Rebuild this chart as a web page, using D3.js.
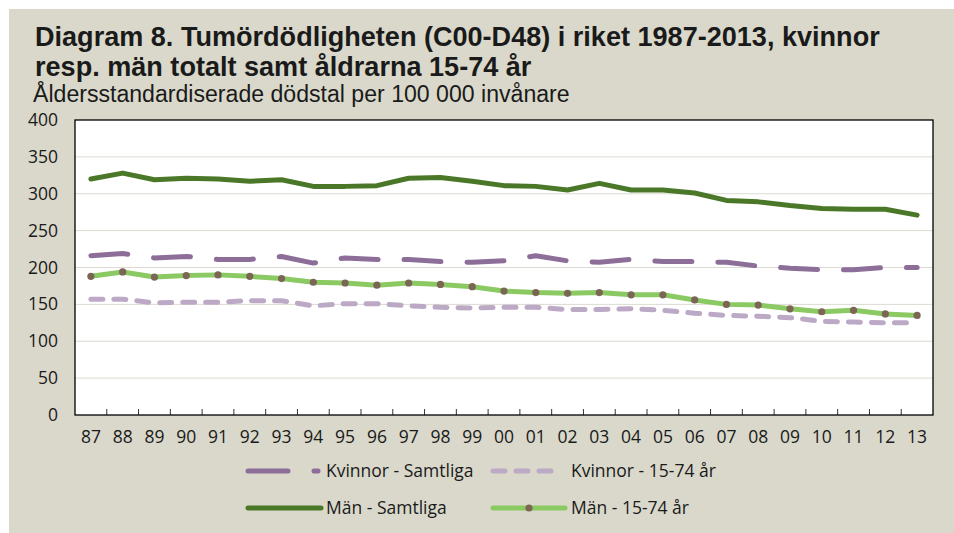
<!DOCTYPE html>
<html><head><meta charset="utf-8">
<script src="https://cdn.jsdelivr.net/npm/d3@7"></script>
<style>body{margin:0;background:#fff;} text{font-family:"Open Sans","DejaVu Sans",sans-serif;}</style>
</head><body>
<svg id="c" width="954" height="533"></svg>
<script>
const years = ["87","88","89","90","91","92","93","94","95","96","97","98","99","00","01","02","03","04","05","06","07","08","09","10","11","12","13"];
const kvinnorSamtliga = [216,219,213,215,211,211,215,206,213,211,211,208,207,209,216,209,207,211,208,208,207,202,199,197,197,200,200];
const kvinnor1574 = [157,157,152,153,153,155,155,148,151,151,148,146,145,146,146,143,143,144,142,138,135,134,132,127,126,125,125];
const manSamtliga = [320,328,319,321,320,317,319,310,310,311,321,322,317,311,310,305,314,305,305,301,291,289,284,280,279,279,271];
const man1574 = [188,194,187,189,190,188,185,180,179,176,179,177,174,168,166,165,166,163,163,156,150,149,144,140,142,137,135];
const yTicks = [0,50,100,150,200,250,300,350,400];
const titleLines = ["Diagram 8. Tumördödligheten (C00-D48) i riket 1987-2013, kvinnor","resp. män totalt samt åldrarna 15-74 år"];
const subtitle = "Åldersstandardiserade dödstal per 100 000 invånare";

const svg = d3.select("#c");
svg.append("rect").attr("x",9).attr("y",9).attr("width",945).attr("height",524).attr("fill","#d9d8cb");

const L=75,R=933,T=120,B=415;
const x = d3.scaleBand().domain(years).range([L,R]);
const y = d3.scaleLinear().domain([0,400]).range([B,T]);
const cx = d => x(d)+x.bandwidth()/2;
const FONT = '"Open Sans","DejaVu Sans",sans-serif';
const TFONT = '"Liberation Sans",Arial,sans-serif';

function fitText(sel, w){
  const n = sel.node(); const cur = n.getComputedTextLength();
  const fs = parseFloat(sel.attr("font-size"));
  sel.attr("font-size", fs*w/cur);
}
const t1 = svg.append("text").attr("x",35).attr("y",46).attr("font-size",22).attr("font-weight","bold").style("font-family",TFONT).attr("fill","#1a1a1a").text(titleLines[0]);
fitText(t1, 845);
const t2 = svg.append("text").attr("x",35).attr("y",76).attr("font-size",t1.attr("font-size")).attr("font-weight","bold").style("font-family",TFONT).attr("fill","#1a1a1a").text(titleLines[1]);
const st = svg.append("text").attr("x",33).attr("y",102).attr("font-size",16).style("font-family",TFONT).attr("fill","#1a1a1a").text(subtitle);
fitText(st, 537);

svg.append("rect").attr("x",L).attr("y",T).attr("width",R-L).attr("height",B-T).attr("fill","#fff");
svg.append("g").selectAll("line").data(yTicks.filter(v=>v>0&&v<400)).join("line")
  .attr("x1",L).attr("x2",R).attr("y1",d=>y(d)).attr("y2",d=>y(d)).attr("stroke","#dcdad2").attr("stroke-width",1);

const ya = svg.append("g").attr("transform",`translate(${L},0)`).call(d3.axisLeft(y).tickValues(yTicks).tickSize(0).tickPadding(17));
ya.select(".domain").remove();
ya.selectAll("text").attr("font-size",17.5).attr("fill","#1a1a1a").style("font-family",FONT);

const xa = svg.append("g").attr("transform",`translate(0,${B})`).call(d3.axisBottom(x).tickSize(0).tickPadding(16));
xa.select(".domain").remove();
xa.selectAll("text").attr("font-size",17.5).attr("fill","#1a1a1a").style("font-family",FONT);
svg.append("g").selectAll("line").data(years.slice(1)).join("line")
  .attr("x1",d=>x(d)).attr("x2",d=>x(d)).attr("y1",B).attr("y2",B-6).attr("stroke","#333").attr("stroke-width",1);

svg.append("rect").attr("x",L).attr("y",T).attr("width",R-L).attr("height",B-T).attr("fill","none").attr("stroke","#000").attr("stroke-width",1.3);

const line = d3.line().x((d,i)=>cx(years[i])).y(d=>y(d));
const series = [
  {name:"Kvinnor - Samtliga", data:kvinnorSamtliga, color:"#8c6e99", dash:"37,26"},
  {name:"Kvinnor - 15-74 år", data:kvinnor1574, color:"#bca9c6", dash:"12,11"},
  {name:"Män - Samtliga", data:manSamtliga, color:"#4a7828", dash:null},
  {name:"Män - 15-74 år", data:man1574, color:"#8bc963", dash:null, marker:"#7b6656"}
];
const g = svg.append("g");
[series[1],series[3],series[0],series[2]].forEach(s=>{
  g.append("path").datum(s.data).attr("d",line).attr("fill","none").attr("stroke",s.color)
   .attr("stroke-width",5).attr("stroke-linecap","round").attr("stroke-linejoin","round")
   .attr("stroke-dasharray",s.dash);
  if(s.marker){
    g.selectAll(null).data(s.data).join("circle").attr("cx",(d,i)=>cx(years[i])).attr("cy",d=>y(d)).attr("r",3.6).attr("fill",s.marker);
  }
});

const leg = [
  {s:series[0], x1:248, x2:318, tx:326, y:471, dash:"40,26"},
  {s:series[1], x1:493, x2:556, tx:571, y:471, dash:"12,11"},
  {s:series[2], x1:248, x2:321, tx:326, y:508, dash:null},
  {s:series[3], x1:493, x2:565, tx:571, y:508, dash:null}
];
leg.forEach(l=>{
  svg.append("line").attr("x1",l.x1).attr("x2",l.x2).attr("y1",l.y).attr("y2",l.y)
    .attr("stroke",l.s.color).attr("stroke-width",5).attr("stroke-linecap","round")
    .attr("stroke-dasharray", l.dash);
  if(l.s.marker) svg.append("circle").attr("cx",(l.x1+l.x2)/2).attr("cy",l.y).attr("r",3.6).attr("fill",l.s.marker);
  svg.append("text").attr("x",l.tx).attr("y",l.y+6).attr("font-size",17.5).attr("fill","#1a1a1a").text(l.s.name);
});
</script>
</body></html>
